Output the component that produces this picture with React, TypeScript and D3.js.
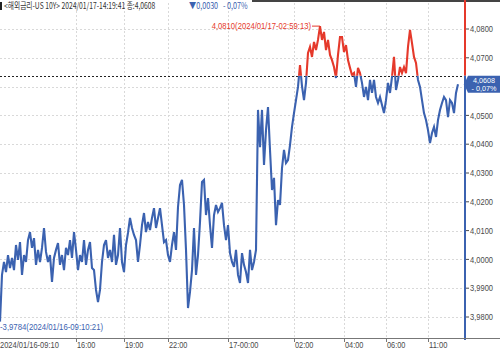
import React from "react";
import * as d3 from "d3";

// ---- data ----
const values: number[] = [
  3.9784, 3.9946, 3.9991, 3.9956, 4.0015, 3.9970, 4.0005, 3.9963, 4.0050, 3.9998,
  4.0060, 3.9946, 4.0015, 3.9991, 4.0067, 4.0095, 4.0040, 4.0074, 3.9981, 4.0033,
  3.9991, 4.0040, 4.0109, 4.0026, 3.9991, 4.0015, 3.9922, 4.0005, 4.0033, 4.0057,
  3.9981, 4.0015, 3.9963, 4.0040, 4.0015, 4.0067, 4.0005, 4.0095, 4.0033, 3.9963,
  4.0015, 3.9991, 4.0067, 3.9981, 4.0033, 4.0060, 3.9970, 3.9963, 3.9894, 3.9852,
  3.9894, 3.9991, 4.0050, 4.0067, 4.0005, 4.0033, 3.9991, 4.0085, 3.9981, 4.0015,
  4.0109, 3.9991, 3.9956, 4.0050, 4.0092, 4.0144, 4.0109, 4.0085, 4.0067, 3.9991,
  4.0050, 4.0119, 4.0161, 4.0095, 4.0130, 4.0102, 4.0144, 4.0178, 4.0109, 4.0144,
  4.0178, 4.0119, 4.0060, 4.0067, 4.0015, 3.9991, 4.0050, 4.0095, 4.0033, 4.0182,
  4.0258, 4.0276, 4.0189, 4.0033, 3.9831, 3.9887, 3.9963, 4.0109, 3.9946, 4.0015,
  4.0130, 4.0269, 4.0276, 4.0154, 4.0213, 4.0119, 4.0040, 4.0154, 4.0189, 4.0165,
  4.0178, 4.0196, 4.0119, 4.0067, 4.0119, 4.0022, 3.9991, 3.9974, 4.0033, 3.9946,
  3.9918, 4.0022, 3.9981, 3.9956, 3.9918, 4.0033, 3.9963, 3.9991, 4.0033, 4.0519,
  4.0390, 4.0519, 4.0328, 4.0449, 4.0529, 4.0380, 4.0241, 4.0283, 4.0119, 4.0206,
  4.0189, 4.0317, 4.0380, 4.0335, 4.0345, 4.0397, 4.0460, 4.0508, 4.0553, 4.0599,
  4.0675, 4.0602, 4.0553, 4.0613, 4.0717, 4.0738, 4.0703, 4.0755, 4.0727, 4.0762,
  4.0810, 4.0762, 4.0790, 4.0727, 4.0762, 4.0710, 4.0692, 4.0668, 4.0630, 4.0710,
  4.0772, 4.0772, 4.0720, 4.0744, 4.0692, 4.0665, 4.0640, 4.0647, 4.0599, 4.0665,
  4.0647, 4.0613, 4.0564, 4.0599, 4.0553, 4.0623, 4.0578, 4.0623, 4.0564, 4.0543,
  4.0564, 4.0536, 4.0508, 4.0553, 4.0613, 4.0578, 4.0633, 4.0703, 4.0588, 4.0623,
  4.0668, 4.0647, 4.0668, 4.0647, 4.0738, 4.0797, 4.0751, 4.0703, 4.0682, 4.0623,
  4.0599, 4.0553, 4.0508, 4.0484, 4.0449, 4.0404, 4.0439, 4.0460, 4.0425, 4.0484,
  4.0519, 4.0543, 4.0564, 4.0553, 4.0494, 4.0553, 4.0543, 4.0508, 4.0578, 4.0608,
];

const yTicks = [3.98, 3.99, 4.0, 4.01, 4.02, 4.03, 4.04, 4.05, 4.06, 4.07, 4.08];
const yTickLabels = [3.98, 3.99, 4.0, 4.01, 4.02, 4.03, 4.04, 4.05, 4.07, 4.08];
const xTickIdx = [38, 62, 84, 114, 147, 172, 193, 214];
const xTickLabels = ["16:00", "19:00", "22:00", "17-00:00", "02:00", "04:00", "06:00", "11:00"];
const firstLabel = "2024/01/16-09:10";
const titleName = "<해외금리-US 10Y>";
const titleTime = "2024/01/17-14:19:41";
const prevClose = 4.0638;
const change = -0.003;
const changePct = -0.07;
const maxTime = "2024/01/17-02:59:13";
const minTime = "2024/01/16-09:10:21";

// ---- layout / style ----
const W = 500;
const H = 351;
const plotRight = 465;
const axisY = 338;
const BLUE = "#3b62b0";
const RED = "#e5392b";
const TXT = "#4a4a4a";
const CW = 3.68; // approximate char width of the narrow HTS font
const FONT = "'Liberation Sans', Arial, sans-serif";
const KR = "'Noto Sans CJK KR', 'Liberation Sans', sans-serif";

const fmt = (v: number) => d3.format(".4f")(v).replace(".", ",");

export default function App() {
  const n = values.length;
  const x = d3.scaleLinear().domain([0, n - 1]).range([0, 458]);
  const y = d3.scaleLinear().domain([3.98, 4.08]).range([317, 29]);
  const line = d3
    .line<number>()
    .x((_, i) => x(i))
    .y((d) => y(d))
    .curve(d3.curveLinear);
  const path = line(values) || "";
  const yPrev = y(prevClose);
  const current = values[n - 1];
  const yCur = y(current);
  const maxV = d3.max(values)!;
  const minV = d3.min(values)!;
  const maxI = values.indexOf(maxV);

  const tl = (s: string) => s.length * CW;

  const maxText = `${fmt(maxV)}(${maxTime})`;
  const minText = `-${fmt(minV)}(${minTime})`;
  const chgText = `▼${fmt(Math.abs(change))}`;
  const pctText = `- ${d3.format(".2f")(Math.abs(changePct)).replace(".", ",")}%`;

  return (
    <svg
      width={W}
      height={H}
      style={{ position: "fixed", left: 0, top: 0, background: "#fff" }}
      fontFamily={FONT}
    >
      <defs>
        <clipPath id="above">
          <rect x={0} y={0} width={plotRight} height={yPrev} />
        </clipPath>
        <clipPath id="below">
          <rect x={0} y={yPrev} width={plotRight} height={H - yPrev} />
        </clipPath>
      </defs>

      {/* top border */}
      <line x1={252} x2={W} y1={1} y2={1} stroke="#444" strokeWidth={2} />

      {/* horizontal grid */}
      {yTicks.map((t) => (
        <line
          key={"hg" + t}
          x1={0}
          x2={plotRight}
          y1={Math.round(y(t)) + 0.5}
          y2={Math.round(y(t)) + 0.5}
          stroke="#d9d9d9"
          strokeDasharray="2,2"
        />
      ))}
      {/* vertical grid */}
      {xTickIdx.map((t) => (
        <line
          key={"vg" + t}
          x1={Math.round(x(t)) + 0.5}
          x2={Math.round(x(t)) + 0.5}
          y1={3}
          y2={axisY}
          stroke="#d9d9d9"
          strokeDasharray="2,2"
        />
      ))}

      {/* previous close dashed line */}
      <line
        x1={0}
        x2={plotRight}
        y1={Math.round(yPrev) + 0.5}
        y2={Math.round(yPrev) + 0.5}
        stroke="#222"
        strokeDasharray="2,2"
      />

      {/* price line */}
      <path d={path} fill="none" stroke={BLUE} strokeWidth={2.1} clipPath="url(#below)" strokeLinejoin="miter" />
      <path d={path} fill="none" stroke={RED} strokeWidth={2.1} clipPath="url(#above)" strokeLinejoin="miter" />

      {/* max / min labels */}
      <text
        x={x(maxI) - 9 - tl(maxText)}
        y={y(maxV) + 3}
        fontSize={9}
        fill={RED}
        textLength={tl(maxText)}
        lengthAdjust="spacingAndGlyphs"
      >
        {maxText}
      </text>
      <line x1={x(maxI) - 8} x2={x(maxI)} y1={y(maxV)} y2={y(maxV)} stroke={RED} strokeWidth={1} />
      <text
        x={0}
        y={y(minV) + 8.5}
        fontSize={9}
        fill={BLUE}
        textLength={tl(minText)}
        lengthAdjust="spacingAndGlyphs"
      >
        {minText}
      </text>

      {/* right axis */}
      <line x1={plotRight} x2={plotRight} y1={0} y2={yPrev} stroke={RED} strokeWidth={2} />
      <line x1={plotRight} x2={plotRight} y1={yPrev} y2={axisY + 2} stroke={BLUE} strokeWidth={2} />
      {yTickLabels.map((t) => (
        <g key={"yt" + t}>
          <line x1={plotRight + 1} x2={plotRight + 4} y1={y(t)} y2={y(t)} stroke={TXT} />
          <text
            x={plotRight + 5}
            y={y(t) + 3.2}
            fontSize={9}
            fill={TXT}
            textLength={23}
            lengthAdjust="spacingAndGlyphs"
          >
            {fmt(t)}
          </text>
        </g>
      ))}

      {/* current price box */}
      <path
        d={`M${plotRight - 1},${yCur} L${plotRight + 3},${yCur - 8.5} H${W} V${yCur + 8.5} H${plotRight + 3} Z`}
        fill={BLUE}
      />
      <text x={484} y={yCur - 1.5} fontSize={7.5} fill="#fff" textAnchor="middle" textLength={22} lengthAdjust="spacingAndGlyphs">
        {fmt(current)}
      </text>
      <text x={484} y={yCur + 7} fontSize={7.5} fill="#fff" textAnchor="middle" textLength={25} lengthAdjust="spacingAndGlyphs">
        {pctText}
      </text>

      {/* bottom axis */}
      <line x1={0} x2={W} y1={axisY + 0.5} y2={axisY + 0.5} stroke="#777" strokeWidth={1} />
      <text x={0} y={axisY + 9.5} fontSize={9} fill={TXT} textLength={tl(firstLabel)} lengthAdjust="spacingAndGlyphs">
        {firstLabel}
      </text>
      {xTickIdx.map((t, i) => (
        <g key={"xt" + t}>
          <line
            x1={Math.round(x(t)) + 0.5}
            x2={Math.round(x(t)) + 0.5}
            y1={axisY}
            y2={axisY + 4}
            stroke="#777"
          />
          <text
            x={x(t) + 1}
            y={axisY + 9.5}
            fontSize={9}
            fill={TXT}
            textLength={tl(xTickLabels[i])}
            lengthAdjust="spacingAndGlyphs"
          >
            {xTickLabels[i]}
          </text>
        </g>
      ))}

      {/* title */}
      <rect x={0} y={2} width={2} height={8} fill="#222" />
      <g transform="translate(4,9) scale(0.75,1)">
        <text x={0} y={0} fontSize={9} fill="#333" fontFamily={KR}>
          {`${titleName} ${titleTime} 종:${fmt(current)}`}
        </text>
      </g>
      <g transform="translate(189,9) scale(0.8,1)">
        <text x={0} y={0} fontSize={9} fill={BLUE} fontFamily={KR} style={{ whiteSpace: "pre" }}>
          {`${chgText}   ${pctText}`}
        </text>
      </g>
    </svg>
  );
}
